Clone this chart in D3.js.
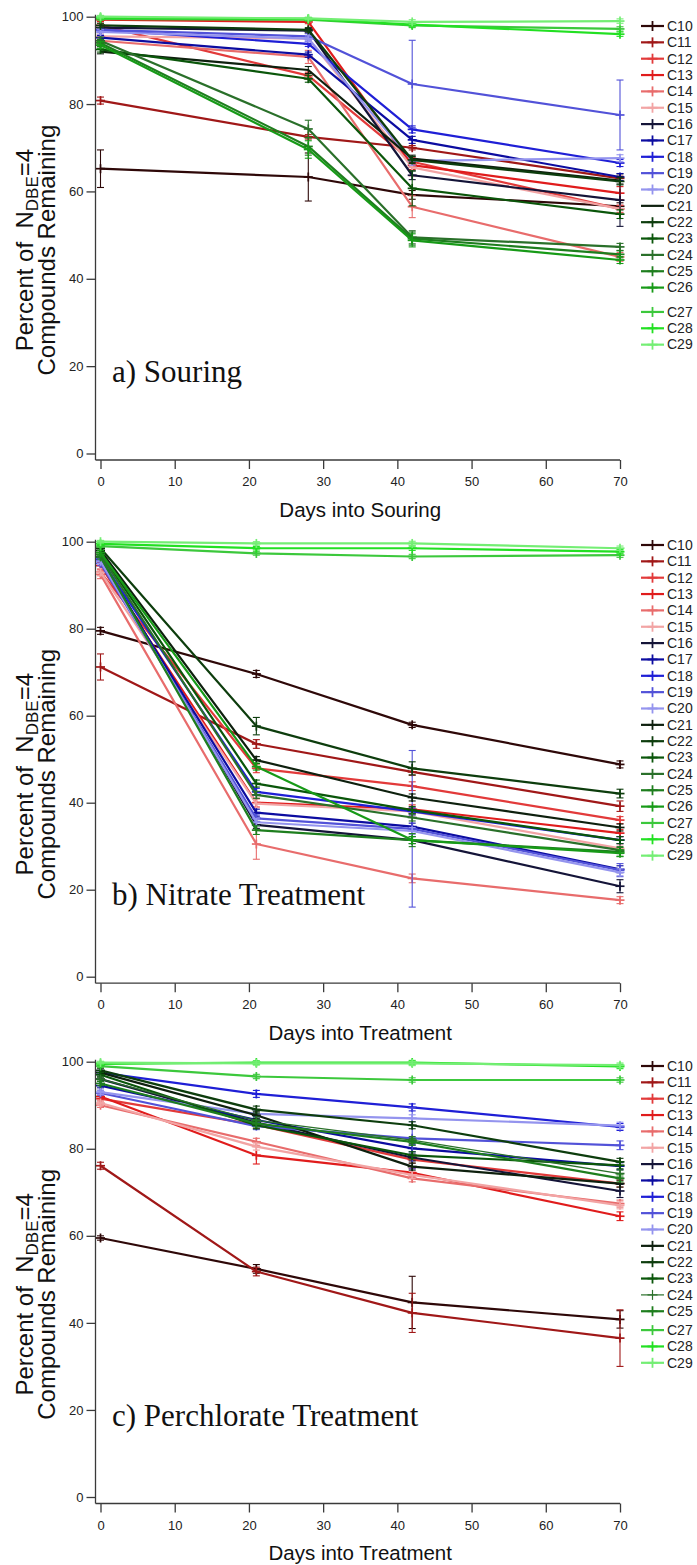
<!DOCTYPE html>
<html><head><meta charset="utf-8">
<script src="https://cdn.jsdelivr.net/npm/d3@7/dist/d3.min.js"></script>
<style>body{margin:0;background:#fff}</style>
</head><body>
<svg id="chart" width="697" height="1565"></svg>
<script>
// ---------- DATA ----------
const seriesNames = ["C10","C11","C12","C13","C14","C15","C16","C17","C18","C19","C20",
  "C21","C22","C23","C24","C25","C26","C27","C28","C29"];
const seriesColors = ["#2e0808","#a01818","#e23a3a","#e01c1c","#e86c6c","#f2a4a4",
  "#141438","#0c0ca0","#1f1fd6","#5252d8","#9494ee",
  "#0e200e","#0d3d0d","#0a560a","#2a702a","#1e7e1e","#179a17","#3cc83c","#22e022","#74ee74"];
const xTicks = [0,10,20,30,40,50,60,70];
const yTicks = [0,20,40,60,80,100];

const souringDays = [0,28,42,70];
const souringValues = [
  [65.2,63.3,59.2,56.6],[80.8,72.5,70.0,63.0],[98.0,86.5,66.8,56.0],[99.3,98.8,66.0,59.6],
  [94.5,90.8,56.5,45.0],[95.5,95.0,65.5,56.0],[97.5,96.8,63.7,58.0],[95.2,91.3,71.8,63.3],
  [97.0,93.8,74.2,66.5],[97.0,95.5,84.6,77.5],[96.5,95.0,67.0,67.6],[92.0,87.8,67.5,62.5],
  [98.0,97.0,67.2,62.3],[92.5,85.8,60.7,54.8],[94.5,74.3,49.5,47.3],[94.0,70.3,49.2,45.6],
  [93.5,69.6,48.8,44.3],[99.5,99.3,98.0,97.2],[99.8,99.5,98.2,96.0],[100,99.6,98.8,99.0]];
const souringErrors = [
  [4.3,5.5,1.0,0.8],[0.8,0.5,0.5,0.5],[0.5,0.8,1.0,0.8],[0.4,0.4,1.0,1.5],
  [0.6,1.5,2.5,1.0],[0.5,1.2,2.0,1.0],[0.5,0.5,1.0,6.0],[0.5,0.6,0.8,0.8],
  [0.5,0.6,0.8,0.8],[0.5,0.6,10.0,8.0],[0.5,0.6,1.0,0.8],[0.5,0.8,0.8,0.8],
  [0.5,0.5,0.8,0.8],[0.6,0.8,4.0,1.0],[0.8,2.0,1.5,0.8],[0.8,2.0,1.5,0.8],
  [0.8,2.0,1.5,0.8],[0.3,0.3,0.5,0.5],[0.3,0.3,0.5,0.5],[0.3,0.3,0.5,0.5]];

const nitrateDays = [0,21,42,70];
const nitrateValues = [
  [79.5,69.6,57.9,48.8],[71.2,53.5,47.1,39.2],[93.0,47.9,43.8,36.0],[94.5,40.0,38.5,33.0],
  [92.5,30.5,22.6,17.6],[93.0,39.8,38.0,29.5],[96.5,34.9,31.4,20.8],[95.5,37.7,34.5,24.7],
  [96.0,42.5,38.0,31.4],[95.0,36.4,34.0,24.5],[95.5,35.5,33.5,24.0],[98.0,49.8,41.2,34.3],
  [98.5,57.6,47.9,42.1],[97.5,44.4,38.3,31.4],[97.0,41.8,36.6,29.1],[96.5,33.7,31.4,28.7],
  [97.5,48.3,31.4,28.4],[99.0,97.3,96.6,96.9],[99.5,98.5,98.5,97.7],[100,99.6,99.6,98.5]];
const nitrateErrors = [
  [0.8,0.8,0.6,0.8],[3.0,1.0,0.8,1.2],[0.8,1.0,1.0,0.8],[0.8,1.0,1.0,0.8],
  [1.0,3.5,1.0,0.8],[0.8,1.0,1.0,0.8],[0.5,0.8,0.8,1.5],[0.5,0.8,0.8,0.8],
  [0.5,0.8,0.8,0.8],[0.5,0.8,18.0,1.5],[0.5,0.8,0.8,0.8],[0.5,0.8,0.8,0.8],
  [0.5,2.0,1.5,1.0],[0.5,0.8,0.8,0.8],[0.5,0.8,0.8,0.8],[0.5,1.0,1.5,1.0],
  [0.5,0.8,0.8,0.8],[0.3,0.4,0.5,0.5],[0.3,0.4,0.5,0.5],[0.3,0.4,0.5,0.5]];

const perchlorateDays = [0,21,42,70];
const perchlorateValues = [
  [59.5,52.4,44.7,40.8],[76.1,51.8,42.3,36.5],[91.5,85.5,77.5,72.0],[92.0,78.5,74.5,64.5],
  [90.0,81.6,73.2,67.4],[90.5,80.5,74.0,67.0],[96.0,86.0,78.0,70.3],[94.5,86.6,80.1,76.0],
  [97.5,92.6,89.5,85.0],[92.8,85.2,82.4,80.8],[93.0,88.0,87.0,85.3],[97.5,87.7,75.9,72.0],
  [98.0,89.0,85.4,77.0],[97.0,85.4,78.5,76.2],[96.0,86.5,82.0,74.3],[95.0,85.8,81.6,73.2],
  null,[99.0,96.6,95.8,95.8],[99.5,99.8,99.8,98.9],[99.8,99.6,99.6,99.2]];
const perchlorateErrors = [
  [0.5,1.0,6.0,2.0],[0.8,1.0,4.5,6.5],[0.5,0.8,0.8,0.8],[0.5,2.0,1.0,1.0],
  [0.5,0.8,0.8,0.8],[0.5,0.8,0.8,0.8],[0.5,0.8,0.8,1.5],[0.5,0.8,0.8,0.8],
  [0.5,0.8,0.8,0.8],[0.5,0.8,7.0,1.0],[0.5,0.8,0.8,0.8],[0.5,0.8,0.8,0.8],
  [0.5,0.8,0.8,0.8],[0.5,0.8,0.8,0.8],[0.5,0.8,0.8,0.8],[0.5,0.8,0.8,0.8],
  null,[0.3,0.5,0.5,0.5],[0.3,0.4,0.5,0.5],[0.3,0.4,0.5,0.5]];

// ---------- LAYOUT ----------
const panels = [
  {days:souringDays, values:souringValues, errors:souringErrors, title:"a) Souring",
   xTitle:"Days into Souring", top:16.7, bottom:453.5, legTop:26, gapBefore:"C27", gap:8, noMarker:["C21"], thin:[]},
  {days:nitrateDays, values:nitrateValues, errors:nitrateErrors, title:"b) Nitrate Treatment",
   xTitle:"Days into Treatment", top:541.7, bottom:976.7, legTop:545, gapBefore:null, gap:0, noMarker:[], thin:[]},
  {days:perchlorateDays, values:perchlorateValues, errors:perchlorateErrors, title:"c) Perchlorate Treatment",
   xTitle:"Days into Treatment", top:1061.7, bottom:1497, legTop:1066, gapBefore:"C27", gap:2.5, noMarker:[], thin:["C24"]}
];

const svg = d3.select("#chart");
const narrow = "'Liberation Sans Narrow','Arial Narrow','Liberation Sans',Arial,sans-serif";
const sans = "'Liberation Sans',Arial,sans-serif";
const axisColor = "#3a3a3a";

const x = d3.scaleLinear().domain([0,70]).range([100.5,620]);

function plus(g, cx, cy, color, sw, size){
  g.append("line").attr("x1",cx-size).attr("x2",cx+size).attr("y1",cy).attr("y2",cy)
    .attr("stroke",color).attr("stroke-width",sw);
  g.append("line").attr("x1",cx).attr("x2",cx).attr("y1",cy-size).attr("y2",cy+size)
    .attr("stroke",color).attr("stroke-width",sw);
}

panels.forEach(p => {
  const y = d3.scaleLinear().domain([0,100]).range([p.bottom,p.top]);
  const g = svg.append("g");
  const axisY = p.bottom + 6.5;
  const axisX = 95.5;

  // y axis
  const ya = g.append("g").attr("transform",`translate(${axisX},0)`)
    .call(d3.axisLeft(y).tickValues(yTicks).tickSize(9).tickPadding(3));
  ya.select(".domain").attr("d",`M0,${p.top-2}V${axisY}`);
  // x axis
  const xa = g.append("g").attr("transform",`translate(0,${axisY})`)
    .call(d3.axisBottom(x).tickValues(xTicks).tickSize(9).tickPadding(8));
  xa.select(".domain").attr("d",`M${axisX},0H${x(70)}`);
  [ya,xa].forEach(a=>{
    a.selectAll(".domain,line").attr("stroke",axisColor).attr("stroke-width",1.3);
    a.selectAll("text").attr("font-family",narrow).attr("font-size",13).attr("fill","#222");
  });

  // axis titles
  g.append("text").attr("x",(x(0)+x(70))/2).attr("y",p.bottom+63)
    .attr("text-anchor","middle").attr("font-family",sans).attr("font-size",20.5).attr("fill","#111")
    .text(p.xTitle);
  const cy = (p.top+p.bottom)/2 + 15;
  const t1 = g.append("text").attr("transform",`translate(33,${cy}) rotate(-90)`)
    .attr("text-anchor","middle").attr("font-family",sans).attr("font-size",24).attr("fill","#111");
  t1.append("tspan").text("Percent of\u00A0\u00A0N");
  t1.append("tspan").attr("dy",5).attr("font-size",17).text("DBE");
  t1.append("tspan").attr("dy",-5).text("=4");
  g.append("text").attr("transform",`translate(55,${cy}) rotate(-90)`)
    .attr("text-anchor","middle").attr("font-family",sans).attr("font-size",24).attr("fill","#111")
    .text("Compounds Remaining");
  // panel title
  g.append("text").attr("x",112).attr("y",p.bottom-71.5)
    .attr("font-family","'Liberation Serif','Times New Roman',serif").attr("font-size",31).attr("fill","#111")
    .text(p.title);

  // data
  const line = d3.line().x(d=>x(d[0])).y(d=>y(d[1]));
  seriesNames.forEach((name,i)=>{
    const vals = p.values[i];
    if(!vals) return;
    const errs = p.errors[i];
    const col = seriesColors[i];
    const pts = p.days.map((d,k)=>[d,vals[k],errs[k]]);
    const sg = g.append("g");
    sg.append("path").attr("d",line(pts)).attr("fill","none").attr("stroke",col)
      .attr("stroke-width",p.thin.includes(name)?1.3:2.2).attr("stroke-linejoin","round");
    pts.forEach(pt=>{
      const cx = x(pt[0]);
      sg.append("line").attr("x1",cx).attr("x2",cx).attr("y1",y(pt[1]-pt[2])).attr("y2",y(pt[1]+pt[2]))
        .attr("stroke",col).attr("stroke-width",1.1);
      [pt[1]-pt[2],pt[1]+pt[2]].forEach(v=>{
        sg.append("line").attr("x1",cx-3.5).attr("x2",cx+3.5).attr("y1",y(v)).attr("y2",y(v))
          .attr("stroke",col).attr("stroke-width",1.1);
      });
      if(!p.noMarker.includes(name)) plus(sg,cx,y(pt[1]),col,1.7,4.5);
    });
  });

  // legend
  let ly = p.legTop;
  seriesNames.forEach((name,i)=>{
    if(!p.values[i]) return;
    if(name===p.gapBefore) ly += p.gap;
    const col = seriesColors[i];
    const lg = g.append("g");
    lg.append("line").attr("x1",641).attr("x2",664).attr("y1",ly).attr("y2",ly)
      .attr("stroke",col).attr("stroke-width",p.thin.includes(name)?1.2:2.2);
    if(!p.noMarker.includes(name))
      plus(lg,652.5,ly,col,p.thin.includes(name)?1.2:1.8,5);
    lg.append("text").attr("x",667).attr("y",ly+4.8).attr("font-family",narrow)
      .attr("font-size",14).attr("fill","#222").text(name);
    ly += 16.35;
  });
});
</script>
</body></html>
